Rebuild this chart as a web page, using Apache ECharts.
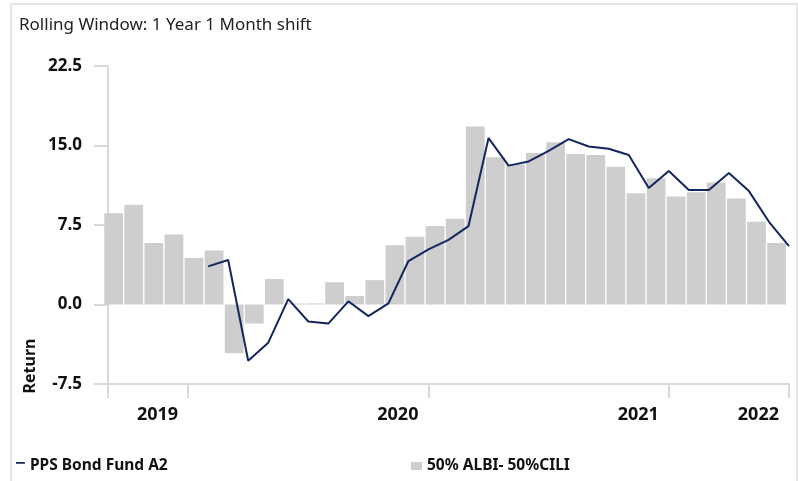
<!DOCTYPE html>
<html>
<head>
<meta charset="utf-8">
<script src="https://cdn.jsdelivr.net/npm/echarts@6/dist/echarts.min.js"></script>
<style>
  html, body { margin: 0; padding: 0; background: #ffffff; }
  #chart { width: 798px; height: 481px; }
</style>
</head>
<body>
<div id="chart"></div>
<script>
// Monthly periods of the benchmark bars
const months = [
  'Sep-19', 'Oct-19', 'Nov-19', 'Dec-19',
  'Jan-20', 'Feb-20', 'Mar-20', 'Apr-20', 'May-20', 'Jun-20',
  'Jul-20', 'Aug-20', 'Sep-20', 'Oct-20', 'Nov-20', 'Dec-20',
  'Jan-21', 'Feb-21', 'Mar-21', 'Apr-21', 'May-21', 'Jun-21',
  'Jul-21', 'Aug-21', 'Sep-21', 'Oct-21', 'Nov-21', 'Dec-21',
  'Jan-22', 'Feb-22', 'Mar-22', 'Apr-22', 'May-22', 'Jun-22'
];

// Rolling 1-year return of the benchmark, one value per month
const benchmarkReturns = [
  8.6, 9.4, 5.8, 6.6,
  4.4, 5.1, -4.6, -1.8, 2.4, 0.1,
  0.1, 2.1, 0.8, 2.3, 5.6, 6.4,
  7.4, 8.1, 16.8, 13.9, 13.2, 14.3,
  15.3, 14.2, 14.1, 13.0, 10.5, 11.9,
  10.2, 10.6, 11.5, 10.0, 7.8, 5.8
];

// Month-end dates on which the fund return is measured
const monthEnds = [
  'Aug-19', 'Sep-19', 'Oct-19', 'Nov-19', 'Dec-19',
  'Jan-20', 'Feb-20', 'Mar-20', 'Apr-20', 'May-20', 'Jun-20',
  'Jul-20', 'Aug-20', 'Sep-20', 'Oct-20', 'Nov-20', 'Dec-20',
  'Jan-21', 'Feb-21', 'Mar-21', 'Apr-21', 'May-21', 'Jun-21',
  'Jul-21', 'Aug-21', 'Sep-21', 'Oct-21', 'Nov-21', 'Dec-21',
  'Jan-22', 'Feb-22', 'Mar-22', 'Apr-22', 'May-22', 'Jun-22'
];

// Rolling 1-year return of the fund (no history before Jan-20)
const fundReturns = [
  null, null, null, null, null,
  3.6, 4.2, -5.3, -3.6, 0.5, -1.6,
  -1.8, 0.3, -1.1, 0.1, 4.1, 5.2,
  6.1, 7.4, 15.7, 13.1, 13.5, 14.5,
  15.6, 14.9, 14.7, 14.1, 11.0, 12.6,
  10.8, 10.8, 12.4, 10.7, 7.8, 5.5
];

const FUND_NAME = 'PPS Bond Fund A2';
const BENCH_NAME = '50% ALBI- 50%CILI';
const Y_MIN = -7.5, Y_MAX = 22.5, Y_STEP = 7.5;

const FONT = 'Noto Sans';
const TEXT = '#111111';
const AXIS_GREY = '#d9d9d9';

const yearOf = m => '20' + m.slice(-2);
// a tick starts every year, a year label sits at the last month of it
const isYearStart = i => i === 0 || yearOf(months[i]) !== yearOf(months[i - 1]);
const isYearEnd = i => i === months.length - 1 || yearOf(months[i]) !== yearOf(months[i + 1]);

const chart = echarts.init(document.getElementById('chart'), null, { renderer: 'canvas' });

chart.setOption({
  animation: false,
  backgroundColor: '#ffffff',
  textStyle: { fontFamily: FONT },
  title: {
    text: 'Rolling Window: 1 Year 1 Month shift',
    left: 19, top: 17, padding: 0,
    textStyle: { fontFamily: FONT, fontSize: 17, fontWeight: 'normal', color: '#222222' }
  },
  graphic: [
    {
      type: 'rect', z: -10, silent: true,
      shape: { x: 11, y: 4, width: 786, height: 520 },
      style: { fill: 'none', stroke: '#e6e6e6', lineWidth: 2 }
    },
    {
      type: 'text', silent: true,
      x: 30, y: 366, rotation: Math.PI / 2,
      style: {
        text: 'Return', fontFamily: FONT, fontSize: 16, fontWeight: 'bold',
        fill: TEXT, align: 'center', verticalAlign: 'middle'
      }
    }
  ],
  legend: [
    {
      data: [{ name: FUND_NAME, icon: 'path://M0,0H10V2H0ZM0,9H10V9H0Z' }],
      left: 16, top: 458, padding: 0,
      itemWidth: 9, itemHeight: 8,
      textStyle: { fontFamily: FONT, fontSize: 15.5, fontWeight: 'bold', color: TEXT }
    },
    {
      data: [{ name: BENCH_NAME, icon: 'rect' }],
      left: 411, top: 458, padding: 0,
      itemWidth: 11, itemHeight: 8,
      textStyle: { fontFamily: FONT, fontSize: 15.5, fontWeight: 'bold', color: TEXT }
    }
  ],
  grid: [
    // axes and fund line
    { left: 108, right: 9, top: 66, bottom: 97, containLabel: false },
    // benchmark bars
    { left: 103.6, right: 11.4, top: 66, bottom: 97, containLabel: false }
  ],
  xAxis: [
    {
      type: 'category', gridIndex: 0, data: months, boundaryGap: true,
      axisLine: { show: true, onZero: false, lineStyle: { color: AXIS_GREY, width: 2 } },
      axisTick: {
        show: true, length: 14, inside: false,
        interval: (i) => isYearStart(i),
        lineStyle: { color: AXIS_GREY, width: 2 }
      },
      axisLabel: {
        show: true, margin: 22, align: 'right',
        interval: (i) => isYearEnd(i),
        formatter: (v) => yearOf(v),
        fontFamily: FONT, fontSize: 18, fontWeight: 'bold', color: TEXT
      },
      splitLine: { show: false }
    },
    {
      type: 'category', gridIndex: 0, data: monthEnds, boundaryGap: false, show: false
    },
    {
      type: 'category', gridIndex: 1, data: months, boundaryGap: true, show: false
    }
  ],
  yAxis: [
    {
      type: 'value', gridIndex: 0, min: Y_MIN, max: Y_MAX, interval: Y_STEP,
      axisLine: { show: true, lineStyle: { color: AXIS_GREY, width: 2 } },
      axisTick: { show: true, length: 14, inside: false, lineStyle: { color: AXIS_GREY, width: 2 } },
      axisLabel: {
        margin: 26, formatter: (v) => v.toFixed(1),
        fontFamily: FONT, fontSize: 17, fontWeight: 'bold', color: TEXT
      },
      splitLine: { show: false }
    },
    {
      type: 'value', gridIndex: 1, min: Y_MIN, max: Y_MAX, interval: Y_STEP, show: false,
      splitLine: { show: false }
    }
  ],
  series: [
    {
      name: BENCH_NAME, type: 'bar', xAxisIndex: 2, yAxisIndex: 1,
      data: benchmarkReturns,
      barCategoryGap: '6.6%',
      itemStyle: { color: '#cecece' },
      z: 1
    },
    {
      name: FUND_NAME, type: 'line', xAxisIndex: 1, yAxisIndex: 0,
      data: fundReturns,
      symbol: 'none', connectNulls: false,
      lineStyle: { color: '#14265f', width: 2 },
      itemStyle: { color: '#14265f' },
      z: 3
    }
  ]
});
</script>
</body>
</html>
